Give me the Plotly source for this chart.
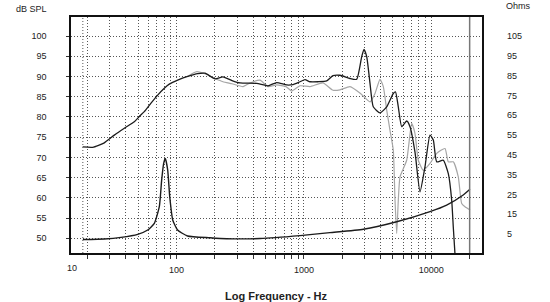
import plotly.graph_objects as go

# ---- data ----
spl_freq = [18.35, 21.99, 27.13, 32.5, 38.94, 46.65, 51.05, 55.88, 63.07, 71.18, 80.21, 87.8,
            102.2, 122.4, 146.7, 167.4, 200.6, 231.7, 272.6, 315.1, 426.1, 522.6, 611.6,
            732.8, 821.2, 932.0, 1020, 1117, 1290, 1510, 1692, 1920, 2301, 2597, 2843, 2963,
            3112, 3303, 3504, 3957, 4467, 5030, 5236, 5508, 5857, 6410, 6805, 7449, 8153,
            8925, 9767, 10370, 11030, 12420, 13600, 14460, 14880, 15350]
spl_db = [72.6, 72.5, 73.6, 75.5, 77.2, 78.8, 80.1, 81.3, 83.4, 85.4, 87.1, 88.1,
          89.1, 90.0, 90.7, 90.8, 89.4, 89.9, 89.0, 88.4, 88.3, 87.7, 88.5,
          87.9, 88.0, 88.7, 89.2, 88.7, 88.7, 88.9, 90.2, 90.3, 89.5, 89.3, 94.9, 96.7,
          94.9, 88.3, 82.5, 81.0, 82.5, 85.8, 86.2, 82.5, 77.6, 79.0, 77.6, 71.3, 61.5,
          67.7, 75.5, 74.3, 68.9, 69.3, 66.0, 59.4, 52.8, 46.0]

off_freq = [122.4, 144.1, 172.6, 200.6, 231.7, 272.6, 332.7, 377.6, 452.3, 522.6, 611.6,
            723.7, 802.0, 932.0, 1117, 1412, 1692, 1920, 2301, 2782, 3303, 3615, 3957,
            4200, 4467, 4741, 5030, 5190, 5351, 5508, 5680, 6410, 7018, 7449, 7907, 8654,
            9767, 11030, 12810, 13600, 14880, 16290, 17320, 18390, 20130]
off_db = [90.0, 91.2, 90.5, 89.5, 88.7, 88.2, 87.5, 88.4, 89.1, 87.5, 87.9,
          87.5, 86.4, 87.7, 87.5, 88.4, 86.6, 86.7, 87.5, 85.8, 83.7, 85.8, 89.3,
          87.5, 81.7, 76.7, 71.8, 59.4, 51.2, 59.4, 65.2, 69.3, 78.4, 75.9, 69.3, 66.8,
          68.5, 71.0, 72.2, 68.9, 68.9, 65.2, 58.6, 57.8, 57.0]

imp_freq = [18.4, 27.1, 36.7, 49.6, 59.4, 67.0, 73.3, 76.5, 79.3, 81.7, 85.3, 88.5, 93.4,
            102, 122, 183, 248, 452, 932, 1600, 2930, 5350, 9770, 13200, 17800, 20100]
imp_ohm = [2.2, 2.5, 3.3, 4.8, 7.0, 10.4, 18.8, 32.3, 40.7, 43.2, 37.3, 23.8, 12.1,
           7.0, 4.0, 3.1, 2.6, 2.7, 4.2, 5.7, 7.4, 11.2, 16.3, 19.6, 24.7, 27.6]

grid_hz = [20, 30, 40, 50, 60, 70, 80, 90, 100, 200, 300, 400, 500, 600, 700, 800, 900,
           1000, 2000, 3000, 4000, 5000, 6000, 7000, 8000, 9000, 10000]
x_labels = {100: "100", 1000: "1000", 10000: "10000"}
extra_grid_hz = [18.4]
limit_hz = 20000
db_ticks = [50, 55, 60, 65, 70, 75, 80, 85, 90, 95, 100]
ohm_ticks = [5, 15, 25, 35, 45, 55, 65, 75, 85, 95, 105]

FONT = "Liberation Sans, Arial, sans-serif"
fig = go.Figure()
fig.add_trace(go.Scatter(x=off_freq, y=off_db, mode="lines",
                         line=dict(color="#a6a6a6", width=1.2, shape="spline", smoothing=0.5),
                         hoverinfo="skip"))
fig.add_trace(go.Scatter(x=spl_freq, y=spl_db, mode="lines",
                         line=dict(color="#1c1c1c", width=1.3, shape="spline", smoothing=0.5),
                         hoverinfo="skip"))
fig.add_trace(go.Scatter(x=imp_freq, y=imp_ohm, mode="lines", yaxis="y2",
                         line=dict(color="#1c1c1c", width=1.4, shape="spline", smoothing=0.5),
                         hoverinfo="skip"))

tickvals = grid_hz + [limit_hz]
ticktext = [x_labels.get(v, "") for v in tickvals]

fig.update_layout(
    width=550, height=302,
    margin=dict(l=71, r=68, t=17, b=49),
    paper_bgcolor="white", plot_bgcolor="white",
    showlegend=False,
    font=dict(family=FONT, size=9, color="#222"),
    xaxis=dict(type="log", range=[1.1719, 4.398],
               tickvals=tickvals, ticktext=ticktext,
               ticks="outside", ticklen=4, tickcolor="#333", tickwidth=1,
               showgrid=True, gridcolor="#555", griddash="1px,2px", gridwidth=1,
               showline=True, mirror=True, linecolor="#111", linewidth=1.5,
               zeroline=False, ticklabelstandoff=3),
    yaxis=dict(range=[46.37, 104.70], tickvals=db_ticks,
               ticks="outside", ticklen=3, tickcolor="#333",
               showgrid=True, gridcolor="#555", griddash="1px,2px", gridwidth=1,
               showline=True, mirror=True, linecolor="#111", linewidth=1.5,
               zeroline=False, ticklabelstandoff=18),
    yaxis2=dict(range=[-4.6, 114.6], tickvals=ohm_ticks, overlaying="y", side="right",
                ticks="", showgrid=False, showline=False, zeroline=False,
                ticklabelstandoff=24),
)

# 20 kHz limit line and extra grid line
fig.add_shape(type="line", xref="x", yref="paper", x0=limit_hz, x1=limit_hz, y0=0, y1=1,
              line=dict(color="#777", width=1.5))
for f in extra_grid_hz:
    fig.add_shape(type="line", xref="x", yref="paper", x0=f, x1=f, y0=0, y1=1,
                  line=dict(color="#555", width=1, dash="1px,2px"))

fig.add_annotation(text="10", xref="paper", yref="paper", x=0.002, y=-0.0636,
                   xanchor="center", yanchor="middle", showarrow=False,
                   font=dict(family=FONT, size=9, color="#222"))
fig.add_annotation(text="dB SPL", xref="paper", yref="paper", x=-0.0973, y=1.034,
                   xanchor="center", yanchor="middle", showarrow=False,
                   font=dict(family=FONT, size=9, color="#222"))
fig.add_annotation(text="Ohms", xref="paper", yref="paper", x=1.090, y=1.0466,
                   xanchor="center", yanchor="middle", showarrow=False,
                   font=dict(family=FONT, size=9, color="#222"))
fig.add_annotation(text="<b>Log Frequency - Hz</b>", xref="paper", yref="paper",
                   x=0.5, y=-0.182, xanchor="center", yanchor="middle", showarrow=False,
                   font=dict(family=FONT, size=11, color="#222"))

fig.write_html("out.html")
